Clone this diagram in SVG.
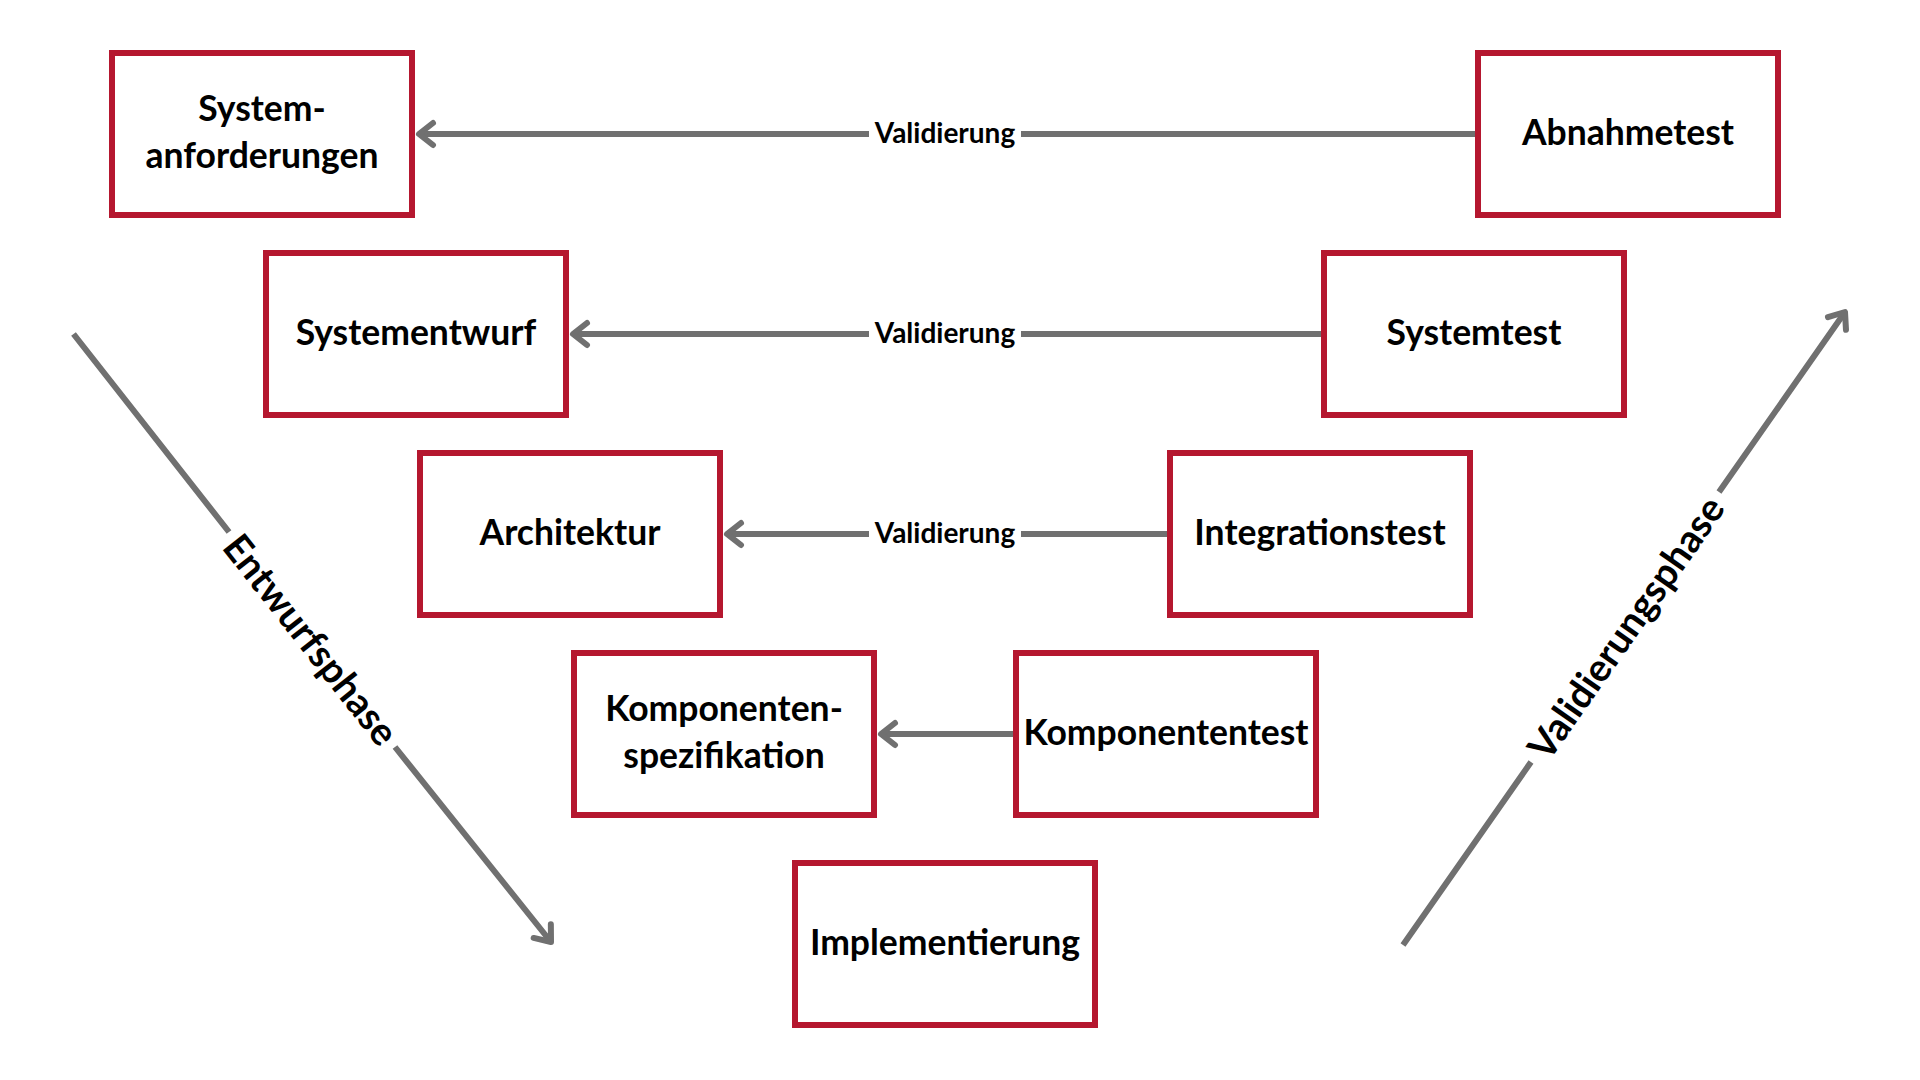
<svg xmlns="http://www.w3.org/2000/svg" width="1920" height="1080" viewBox="0 0 1920 1080">
  <style>
    .box { fill: #ffffff; stroke: #B5172F; stroke-width: 6; }
    .lbl { font-family: Lato, "Open Sans", sans-serif; font-weight: 700; font-size: 35.5px; fill: #000000; text-anchor: middle; }
    .edge { fill: none; stroke: #707070; stroke-width: 6; }
    .elbl { font-family: Lato, "Open Sans", sans-serif; font-weight: 700; font-size: 28px; fill: #000000; text-anchor: middle; }
    .phase { font-family: Lato, "Open Sans", sans-serif; font-weight: 700; font-size: 38.5px; fill: #000000; text-anchor: middle; dominant-baseline: central; }
  </style>
  <defs>
    <marker id="chev" markerUnits="userSpaceOnUse" viewBox="-22 -16 28 32" refX="0" refY="0" markerWidth="28" markerHeight="32" orient="auto" overflow="visible">
      <path d="M-14,-11 L0,0 L-14,11" fill="none" stroke="#707070" stroke-width="6" stroke-linecap="round" stroke-linejoin="round"/>
    </marker>
  </defs>
  <rect width="1920" height="1080" fill="#ffffff"/>

  <g id="connectors">
    <path class="edge" d="M1476,134 L1021,134 M869,134 L419,134" marker-end="url(#chev)"/>
    <path class="edge" d="M1322,334 L1021,334 M869,334 L573,334" marker-end="url(#chev)"/>
    <path class="edge" d="M1168,534 L1021,534 M869,534 L727,534" marker-end="url(#chev)"/>
    <path class="edge" d="M1014,734 L881,734" marker-end="url(#chev)"/>
    <text class="elbl" x="945" y="143">Validierung</text>
    <text class="elbl" x="945" y="343">Validierung</text>
    <text class="elbl" x="945" y="543">Validierung</text>

    <path class="edge" d="M73.5,334 L229,532 M395,747 L551,942" marker-end="url(#chev)"/>
    <text class="phase" transform="translate(312,639) rotate(51.8)">Entwurfsphase</text>

    <path class="edge" d="M1403,945 L1531,762 M1719,492 L1845,312" marker-end="url(#chev)"/>
    <text class="phase" transform="translate(1625,627) rotate(-55)">Validierungsphase</text>
  </g>

  <g id="node-systemanforderungen">
    <rect class="box" x="112" y="53" width="300" height="162"/>
    <text class="lbl" x="262" y="121">System-</text>
    <text class="lbl" x="262" y="168">anforderungen</text>
  </g>
  <g id="node-systementwurf">
    <rect class="box" x="266" y="253" width="300" height="162"/>
    <text class="lbl" x="416" y="345">Systementwurf</text>
  </g>
  <g id="node-architektur">
    <rect class="box" x="420" y="453" width="300" height="162"/>
    <text class="lbl" x="570" y="545">Architektur</text>
  </g>
  <g id="node-komponentenspezifikation">
    <rect class="box" x="574" y="653" width="300" height="162"/>
    <text class="lbl" x="724" y="721">Komponenten-</text>
    <text class="lbl" x="724" y="768">spezifikation</text>
  </g>
  <g id="node-implementierung">
    <rect class="box" x="795" y="863" width="300" height="162"/>
    <text class="lbl" x="945" y="955">Implementierung</text>
  </g>
  <g id="node-abnahmetest">
    <rect class="box" x="1478" y="53" width="300" height="162"/>
    <text class="lbl" x="1628" y="145">Abnahmetest</text>
  </g>
  <g id="node-systemtest">
    <rect class="box" x="1324" y="253" width="300" height="162"/>
    <text class="lbl" x="1474" y="345">Systemtest</text>
  </g>
  <g id="node-integrationstest">
    <rect class="box" x="1170" y="453" width="300" height="162"/>
    <text class="lbl" x="1320" y="545">Integrationstest</text>
  </g>
  <g id="node-komponententest">
    <rect class="box" x="1016" y="653" width="300" height="162"/>
    <text class="lbl" x="1166" y="745">Komponententest</text>
  </g>
</svg>
